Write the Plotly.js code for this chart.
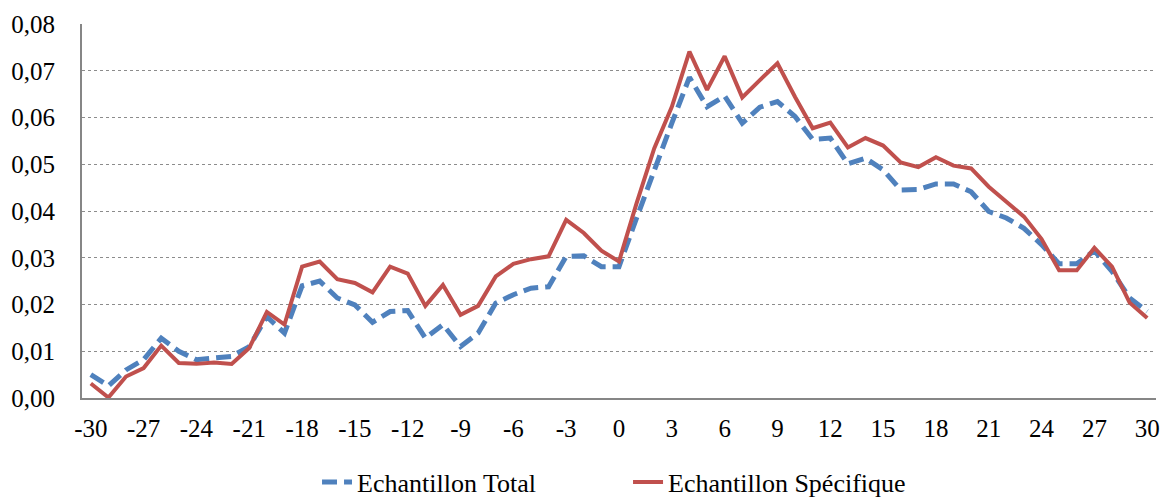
<!DOCTYPE html>
<html>
<head>
<meta charset="utf-8">
<script src="https://cdn.plot.ly/plotly-3.0.1.min.js"></script>
<style>html,body{margin:0;padding:0;background:#fff;}#chart{width:1163px;height:497px;}</style>
</head>
<body>
<div id="chart"></div>
<script>
const days = [];
for (let d = -30; d <= 30; d++) days.push(d);

const xTickValues = [-30, -27, -24, -21, -18, -15, -12, -9, -6, -3, 0, 3, 6, 9, 12, 15, 18, 21, 24, 27, 30];
const xTickLabels = ["-30", "-27", "-24", "-21", "-18", "-15", "-12", "-9", "-6", "-3", "0", "3", "6", "9", "12", "15", "18", "21", "24", "27", "30"];

const echantillonTotal = [
  0.0050, 0.0026, 0.0060, 0.0082, 0.0128, 0.0100, 0.0082, 0.0085, 0.0089, 0.0110,
  0.0174, 0.0139, 0.0240, 0.0250, 0.0214, 0.0199, 0.0162, 0.0185, 0.0187, 0.0128,
  0.0157, 0.0110, 0.0139, 0.0203, 0.0221, 0.0235, 0.0238, 0.0303, 0.0304, 0.0281,
  0.0281, 0.0385, 0.0488, 0.0588, 0.0686, 0.0623, 0.0646, 0.0588, 0.0622, 0.0634,
  0.0602, 0.0553, 0.0556, 0.0501, 0.0513, 0.0488, 0.0445, 0.0446, 0.0458, 0.0458,
  0.0441, 0.0399, 0.0385, 0.0363, 0.0328, 0.0287, 0.0287, 0.0315, 0.0271, 0.0214,
  0.0185
];

const echantillonSpecifique = [
  0.0031, 0.0001, 0.0046, 0.0064, 0.0112, 0.0075, 0.0073, 0.0076, 0.0073, 0.0107,
  0.0184, 0.0157, 0.0281, 0.0292, 0.0254, 0.0246, 0.0226, 0.0281, 0.0266, 0.0197,
  0.0242, 0.0178, 0.0197, 0.0260, 0.0287, 0.0297, 0.0303, 0.0381, 0.0353, 0.0315,
  0.0292, 0.0417, 0.0534, 0.0623, 0.0741, 0.0659, 0.0731, 0.0643, 0.0680, 0.0716,
  0.0644, 0.0577, 0.0589, 0.0536, 0.0556, 0.0540, 0.0504, 0.0494, 0.0515, 0.0497,
  0.0491, 0.0452, 0.0420, 0.0388, 0.0340, 0.0273, 0.0273, 0.0321, 0.0281, 0.0204,
  0.0171
];

const seriesNames = ["Echantillon Total", "Echantillon Spécifique"];

const serif = "Liberation Serif";

const traces = [
  {
    x: days, y: echantillonTotal, name: seriesNames[0], type: "scatter", mode: "lines",
    line: {color: "#4F81BD", width: 5, dash: "15px,7px"}
  },
  {
    x: days, y: echantillonSpecifique, name: seriesNames[1], type: "scatter", mode: "lines",
    line: {color: "#C0504D", width: 4}
  }
];

const layout = {
  width: 1163, height: 497,
  margin: {l: 82, r: 7, t: 24, b: 99},
  paper_bgcolor: "#fff", plot_bgcolor: "#fff",
  separators: ", ",
  font: {family: serif, size: 25, color: "#000"},
  showlegend: true,
  legend: {
    orientation: "h",
    xref: "container", yref: "container",
    x: 0.2726, xanchor: "left", y: 0.03, yanchor: "middle",
    font: {family: serif, size: 26, color: "#000"},
    traceorder: "normal", entrywidth: 266, entrywidthmode: "pixels"
  },
  xaxis: {
    range: [-30.5, 30.5], tickmode: "array", tickvals: xTickValues, ticktext: xTickLabels,
    showgrid: false, zeroline: false, showline: true, linecolor: "#868686", linewidth: 2,
    ticks: "", ticklabelstandoff: 7,
    tickfont: {family: serif, size: 25, color: "#000"}
  },
  yaxis: {
    range: [0, 0.08], tickmode: "linear", tick0: 0, dtick: 0.01, tickformat: ".2f",
    showgrid: true, gridcolor: "#8c8c8c", griddash: "dot", gridwidth: 1,
    zeroline: false, showline: true, linecolor: "#868686", linewidth: 2,
    ticks: "", ticklabelstandoff: 20,
    tickfont: {family: serif, size: 25, color: "#000"}
  }
};

Plotly.newPlot("chart", traces, layout, {staticPlot: true, displayModeBar: false});
</script>
</body>
</html>
